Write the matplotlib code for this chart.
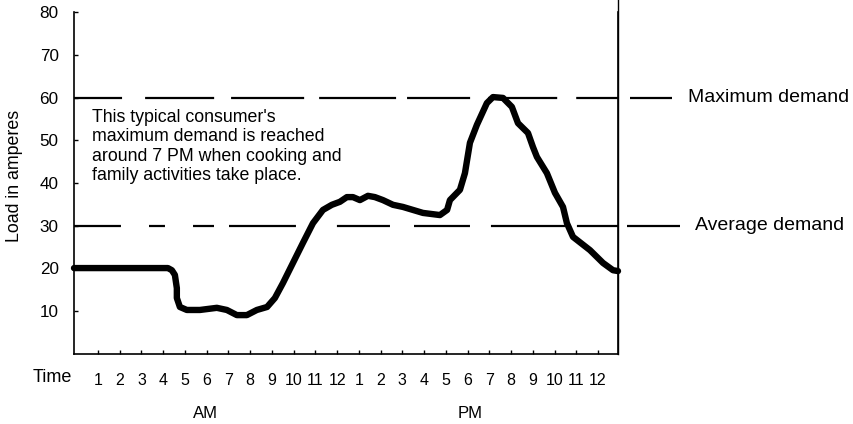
import matplotlib
matplotlib.use("Agg")
import matplotlib.pyplot as plt

plt.rcParams["font.family"] = ["Liberation Sans", "DejaVu Sans"]
plt.rcParams["lines.scale_dashes"] = False

# Hourly load profile of a typical household (hours from midnight, amperes)
hours = [-0.10, 4.22, 4.40, 4.54, 4.63, 4.63, 4.77, 5.09, 5.69, 6.47, 6.93, 7.39,
         7.85, 8.31, 8.78, 9.14, 9.51, 9.97, 10.43, 10.89, 11.35, 11.76, 12.13,
         12.45, 12.73, 13.05, 13.42, 13.74, 14.11, 14.57, 15.03, 15.49, 15.95,
         16.73, 17.06, 17.19, 17.65, 17.88, 18.11, 18.43, 18.89, 19.17, 19.63,
         20.04, 20.32, 20.78, 21.01, 21.19, 21.65, 22.02, 22.39, 22.57, 22.85,
         23.63, 24.23, 24.69, 24.92]
load = [20.1, 20.1, 19.6, 18.5, 15.4, 13.1, 11.0, 10.3, 10.3, 10.8, 10.3, 9.1,
        9.1, 10.3, 11.0, 13.1, 16.6, 21.3, 26.0, 30.6, 33.7, 34.9, 35.6,
        36.7, 36.7, 36.0, 37.0, 36.7, 36.0, 34.9, 34.4, 33.7, 33.0,
        32.5, 33.7, 36.0, 38.4, 42.3, 49.4, 53.6, 58.7, 60.1, 59.9,
        57.8, 54.0, 51.7, 48.4, 46.1, 42.3, 37.7, 34.4, 30.6, 27.4,
        24.3, 21.3, 19.6, 19.4]

max_demand = 60
avg_demand = 30

tick_hours = list(range(1, 25))
tick_labels = [str(h) for h in range(1, 13)] + [str(h) for h in range(1, 13)]
y_ticks = [10, 20, 30, 40, 50, 60, 70, 80]

XMIN, XMAX = -0.10, 24.92

fig = plt.figure(figsize=(8.54, 4.24), dpi=100)
ax = fig.add_axes([74 / 854, 70 / 424, 544 / 854, 342 / 424])
ax.set_xlim(XMIN, XMAX)
ax.set_ylim(0, 80)

ax.spines["top"].set_visible(False)
for side in ("left", "bottom", "right"):
    ax.spines[side].set_linewidth(1.2)
ax.axvline(XMAX, ymin=0, ymax=83 / 80, color="black", lw=1.0, clip_on=False)

# Irregular hand-drawn dash patterns (points)
max_dash = (0, [34.6, 16.6, 49.7, 12.2, 52.6, 10.8, 55.4, 7.9, 45.4, 13.0, 49.7, 13.7, 40.0, 40.0])
avg_dash = (0, [33.8, 20.2, 11.5, 20.2, 15.1, 10.8, 48.2, 29.5, 38.2, 17.3, 40.3, 15.1, 53.3, 8.6, 40.0, 40.0])

ax.plot([XMIN, XMAX], [max_demand, max_demand], color="black", lw=1.6,
        linestyle=max_dash, dash_capstyle="butt")
ax.plot([XMIN, XMAX], [avg_demand, avg_demand], color="black", lw=1.6,
        linestyle=avg_dash, dash_capstyle="butt")

# Short leader segments beyond the right edge
ytr = ax.get_yaxis_transform()
ax.plot([1.022, 1.099], [max_demand, max_demand], transform=ytr, color="black",
        lw=1.6, clip_on=False, solid_capstyle="butt")
ax.plot([1.017, 1.114], [avg_demand, avg_demand], transform=ytr, color="black",
        lw=1.6, clip_on=False, solid_capstyle="butt")
ax.text(1.129, max_demand, "Maximum demand", transform=ytr, fontsize=14,
        va="center", ha="left")
ax.text(1.142, avg_demand, "Average demand", transform=ytr, fontsize=14,
        va="center", ha="left")

# Load curve
ax.plot(hours, load, color="black", lw=4.6, solid_joinstyle="round",
        solid_capstyle="round", clip_on=False, zorder=3)

ax.set_yticks(y_ticks)
ax.set_yticklabels([str(v) for v in y_ticks], fontsize=12.3)
ax.set_xticks(tick_hours)
ax.set_xticklabels(tick_labels, fontsize=11.5)
ax.tick_params(axis="y", direction="in", length=3, width=1, pad=11)
ax.tick_params(axis="x", direction="in", length=3, width=1, pad=14)

fig.text(52 / 854, 1 - 377 / 424, "Time", fontsize=13, ha="center", va="center")
fig.text(205 / 854, 1 - 413 / 424, "AM", fontsize=12, ha="center", va="center")
fig.text(470 / 854, 1 - 413 / 424, "PM", fontsize=12, ha="center", va="center")
fig.text(15 / 854, 1 - 176 / 424, "Load in amperes", fontsize=12.8, rotation=90,
         ha="center", va="center")

fig.text(92 / 854, 1 - 109 / 424,
         "This typical consumer's\nmaximum demand is reached\naround 7 PM when cooking and\nfamily activities take place.",
         fontsize=12.8, ha="left", va="top", linespacing=1.18)

fig.savefig("out.png", dpi=100, facecolor="white")
